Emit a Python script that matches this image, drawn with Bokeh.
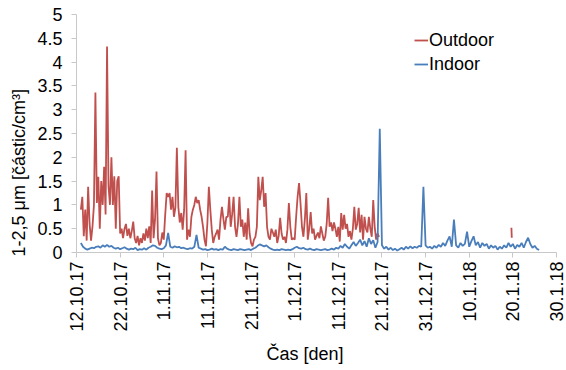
import numpy as np
import pandas as pd
from bokeh.plotting import figure
from bokeh.models import Range1d, FixedTicker, Legend, LegendItem, Title
from bokeh.embed import file_html
from bokeh.resources import INLINE

# ---- data -------------------------------------------------------------
axis_start = pd.Timestamp("2017-10-12")

outdoor_start = pd.Timestamp("2017-10-13 00:00")
outdoor_step_hours = 8
outdoor = [
    0.9, 1.17, 0.34, 0.9, 0.25, 1.38, 0.6, 0.25, 0.55, 1.0,
    3.36, 1.04, 1.59, 0.5, 1.5, 1.0, 1.8, 0.8, 4.33, 1.4,
    1.0, 2.0, 1.0, 1.6, 0.5, 1.5, 1.6, 0.4, 0.5, 0.3,
    0.5, 0.6, 0.35, 0.5, 0.3, 0.45, 0.65, 0.3, 0.2, 0.35,
    0.15, 0.3, 0.2, 0.4, 0.25, 0.5, 0.3, 0.55, 0.2, 1.3,
    0.3, 0.7, 1.7, 0.3, 0.15, 0.2, 0.42, 0.27, 0.8, 1.25,
    1.17, 1.25, 0.9, 1.17, 0.75, 0.95, 2.2, 0.96, 0.63, 0.83,
    0.48, 0.9, 2.15, 0.27, 0.48, 0.33, 0.75, 0.9, 1.0, 1.17,
    1.04, 1.1, 0.9, 0.75, 0.54, 0.27, 0.13, 0.63, 1.38, 0.9,
    0.48, 0.2, 0.33, 0.4, 0.48, 0.27, 0.69, 0.96, 0.7, 0.48,
    0.75, 0.75, 1.17, 0.54, 0.8, 1.17, 0.54, 0.33, 0.6, 1.17,
    0.54, 0.69, 0.33, 0.63, 0.27, 0.93, 0.4, 0.2, 0.13, 0.27,
    0.33, 0.54, 1.59, 1.1, 1.3, 1.59, 0.96, 1.25, 0.54, 0.33,
    0.27, 0.5, 0.42, 0.33, 0.48, 0.2, 0.35, 0.73, 0.4, 0.27,
    0.33, 0.2, 0.48, 1.04, 0.54, 0.27, 0.3, 0.27, 0.75, 1.17,
    1.46, 1.04, 0.54, 0.33, 0.7, 1.25, 0.27, 0.5, 0.85, 0.4,
    0.5, 0.27, 0.35, 0.42, 0.3, 0.55, 0.4, 0.25, 0.33, 0.6,
    1.15, 0.54, 0.63, 0.45, 0.63, 0.5, 0.33, 0.54, 0.23, 0.83,
    0.48, 0.79, 0.5, 0.6, 0.33, 0.45, 0.27, 0.5, 0.96, 0.48,
    0.6, 0.94, 0.42, 0.79, 0.27, 0.75, 0.5, 0.42, 0.75, 0.5,
    0.33, 1.1, 0.54, 0.27, 0.4, 0.33,
]

outdoor_late_times = ["2018-01-19 16:00", "2018-01-19 18:00"]
outdoor_late = [0.52, 0.31]

indoor_start = pd.Timestamp("2017-10-13 00:00")
indoor_step_hours = 12
indoor = [
    0.2, 0.12, 0.08, 0.06, 0.08, 0.1, 0.09, 0.12, 0.13, 0.1,
    0.15, 0.12, 0.16, 0.12, 0.14, 0.1, 0.08, 0.1, 0.07, 0.09,
    0.11, 0.08, 0.06, 0.08, 0.07, 0.1, 0.05, 0.07, 0.06, 0.09,
    0.06, 0.1, 0.12, 0.15, 0.14, 0.1, 0.08, 0.07, 0.09, 0.15,
    0.41, 0.12, 0.1, 0.13, 0.11, 0.12, 0.09, 0.1, 0.08, 0.07,
    0.09, 0.08, 0.12, 0.37, 0.1, 0.08, 0.06, 0.07, 0.05, 0.06,
    0.08, 0.06, 0.07, 0.05, 0.07, 0.06, 0.12, 0.08, 0.06, 0.05,
    0.07, 0.06, 0.05, 0.07, 0.06, 0.05, 0.06, 0.07, 0.05, 0.08,
    0.1, 0.14, 0.17, 0.15, 0.13, 0.15, 0.11, 0.08, 0.06, 0.05,
    0.06, 0.05, 0.07, 0.06, 0.05, 0.06, 0.05, 0.07, 0.1, 0.12,
    0.09, 0.08, 0.1, 0.07, 0.06, 0.08, 0.06, 0.05, 0.07, 0.06,
    0.05, 0.06, 0.07, 0.05, 0.06, 0.08, 0.06, 0.1, 0.08, 0.14,
    0.1, 0.18, 0.12, 0.08, 0.15, 0.22, 0.14, 0.2, 0.27, 0.15,
    0.24, 0.12, 0.3, 0.18, 0.26, 0.1, 0.22, 2.6, 0.15, 0.08,
    0.12, 0.06, 0.1, 0.05, 0.08, 0.04, 0.07, 0.1, 0.06, 0.12,
    0.08, 0.13, 0.09, 0.12, 0.1, 0.14, 0.12, 1.38, 0.15, 0.1,
    0.12, 0.08, 0.14, 0.1, 0.16, 0.12, 0.2, 0.14, 0.25, 0.34,
    0.12, 0.69, 0.15, 0.1, 0.2, 0.14, 0.18, 0.44, 0.12, 0.24,
    0.34, 0.15, 0.22, 0.1, 0.2, 0.14, 0.18, 0.08, 0.15, 0.1,
    0.14, 0.06, 0.12, 0.08, 0.15, 0.1, 0.2, 0.12, 0.18, 0.08,
    0.16, 0.12, 0.2, 0.1, 0.22, 0.31, 0.18, 0.1, 0.14, 0.08,
    0.05,
]

x_ticks = [0, 10, 20, 30, 40, 50, 60, 70, 80, 90, 100, 110]
x_tick_labels = ["12.10.17", "22.10.17", "1.11.17", "11.11.17", "21.11.17",
                 "1.12.17", "11.12.17", "21.12.17", "31.12.17", "10.1.18",
                 "20.1.18", "30.1.18"]
y_ticks = [0, 0.5, 1, 1.5, 2, 2.5, 3, 3.5, 4, 4.5, 5]
y_tick_labels = ["0", "0.5", "1", "1.5", "2", "2.5", "3", "3.5", "4", "4.5", "5"]

x_title = "Čas [den]"
y_title = "1-2,5 μm [částic/cm³]"

# ---- positions (days since axis start) --------------------------------
def days_from(start, step_h, n):
    t = start + pd.to_timedelta(np.arange(n) * step_h, unit="h")
    return ((t - axis_start) / pd.Timedelta(days=1)).to_numpy()

out_x = days_from(outdoor_start, outdoor_step_hours, len(outdoor))
in_x = days_from(indoor_start, indoor_step_hours, len(indoor))
late_x = ((pd.to_datetime(outdoor_late_times) - axis_start) / pd.Timedelta(days=1)).to_numpy()

RED = "#C0504D"
BLUE = "#4A7EBB"
FONT = "Liberation Sans"

p = figure(width=566, height=370, output_backend="svg", toolbar_location=None,
           x_range=Range1d(0, 110), y_range=Range1d(0, 5),
           min_border_left=75, min_border_right=10, min_border_top=14,
           min_border_bottom=117)
p.outline_line_color = None
p.xgrid.visible = False
p.ygrid.visible = False

r_out = p.line(out_x, outdoor, line_color=RED, line_width=1.8)
p.line(late_x, outdoor_late, line_color=RED, line_width=1.8)
r_in = p.line(in_x, indoor, line_color=BLUE, line_width=1.8)

AX = "#C8C8C8"
xa = p.xaxis[0]
xa.ticker = FixedTicker(ticks=x_ticks)
xa.major_label_overrides = {t: l for t, l in zip(x_ticks, x_tick_labels)}
xa.major_label_orientation = np.pi / 2
xa.major_label_standoff = 4

ya = p.yaxis[0]
ya.ticker = FixedTicker(ticks=y_ticks)
ya.major_label_overrides = {t: l for t, l in zip(y_ticks, y_tick_labels)}
ya.major_label_standoff = 9

for ax in (xa, ya):
    ax.axis_line_color = AX
    ax.major_tick_line_color = AX
    ax.major_tick_in = 0
    ax.major_tick_out = 5
    ax.minor_tick_line_color = None
    ax.major_label_text_font = FONT
    ax.major_label_text_font_size = "18px"
    ax.major_label_text_color = "#000000"

# axis titles, placed as in the reference (not centred on the axis)
p.add_layout(Title(text=y_title, align="left", offset=-4, standoff=12,
                   text_font=FONT, text_font_size="18px",
                   text_font_style="normal", text_color="#000000"), "left")
p.add_layout(Title(text=x_title, align="left", offset=190, standoff=14,
                   text_font=FONT, text_font_size="18px",
                   text_font_style="normal", text_color="#000000"), "below")

legend = Legend(items=[LegendItem(label="Outdoor", renderers=[r_out]),
                       LegendItem(label="Indoor", renderers=[r_in])],
                location=(338, 176))
legend.border_line_color = None
legend.background_fill_alpha = 0
legend.padding = 0
legend.margin = 0
legend.spacing = 0
legend.glyph_width = 14
legend.glyph_height = 24
legend.label_height = 24
legend.label_standoff = 1
legend.label_text_font = FONT
legend.label_text_font_size = "18px"
legend.label_text_color = "#000000"
p.add_layout(legend)

open("out.html", "w").write(file_html(p, INLINE))
